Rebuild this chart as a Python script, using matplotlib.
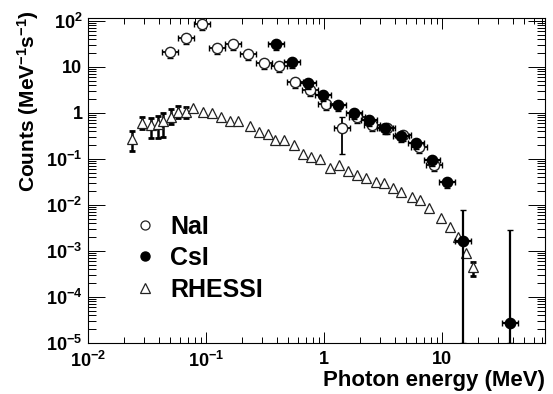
import numpy as np
import matplotlib
matplotlib.use("Agg")
import matplotlib.pyplot as plt
from matplotlib.lines import Line2D
from matplotlib.ticker import FixedLocator, FixedFormatter, LogLocator, NullFormatter

plt.rcParams['font.family'] = ['Liberation Sans', 'DejaVu Sans']
plt.rcParams['font.weight'] = 'bold'
plt.rcParams['mathtext.fontset'] = 'custom'
plt.rcParams['mathtext.rm'] = 'Liberation Sans:bold'
plt.rcParams['mathtext.bf'] = 'Liberation Sans:bold'
plt.rcParams['mathtext.it'] = 'Liberation Sans:bold'
plt.rcParams['mathtext.sf'] = 'Liberation Sans:bold'

# NaI (open circles)
nai_e = [0.0496, 0.0678, 0.0925, 0.124, 0.169, 0.227, 0.31, 0.416, 0.567,
         0.76, 1.04, 1.42, 1.91, 2.55, 3.42, 4.67, 6.38, 8.55]
nai_c = [21.2, 42.8, 86.0, 25.9, 31.7, 19.2, 12.3, 10.6, 4.75,
         3.18, 1.58, 0.477, 0.83, 0.555, 0.48, 0.336, 0.185, 0.075]
nai_big_err = {11: (0.13, 0.83)}

# CsI (filled circles)
csi_e = [0.392, 0.536, 0.731, 0.98, 1.32, 1.8, 2.4, 3.29, 4.5, 6.0,
         8.2, 11.0, 15.1, 37.7]
csi_c = [31.7, 12.9, 4.52, 2.48, 1.51, 1.01, 0.71, 0.48, 0.32, 0.225,
         0.097, 0.031, 1.69e-3, 2.67e-5]
csi_big_err = {12: (1e-5, 7.6e-3), 13: (1e-5, 2.9e-3)}

# RHESSI (open triangles)
rhessi_e = [0.0236, 0.0287, 0.0342, 0.0392, 0.0432, 0.0505, 0.0579, 0.0677,
            0.0776, 0.0944, 0.1125, 0.134, 0.160, 0.187, 0.236, 0.281,
            0.335, 0.384, 0.458, 0.557, 0.664, 0.776, 0.925, 1.12, 1.34,
            1.60, 1.90, 2.27, 2.76, 3.22, 3.85, 4.49, 5.57, 6.51, 7.77,
            9.82, 11.7, 13.7, 16.0, 18.3]
rhessi_c = [0.275, 0.612, 0.554, 0.583, 0.678, 0.828, 1.06, 1.06,
            1.30, 1.06, 1.01, 0.828, 0.678, 0.678, 0.527, 0.391,
            0.354, 0.262, 0.262, 0.204, 0.130, 0.112, 0.101, 0.0647, 0.0752,
            0.0557, 0.0456, 0.0393, 0.0322, 0.0306, 0.0238, 0.0195, 0.0152,
            0.0131, 0.00879, 0.00533, 0.0034, 0.00206, 0.000884, 0.000439]
rhessi_err = {0: (0.151, 0.411), 1: (0.454, 0.83), 2: (0.29, 0.787),
              3: (0.29, 0.869), 4: (0.305, 1.01), 5: (0.583, 1.23),
              6: (0.787, 1.43), 7: (0.787, 1.36), 39: (0.00028, 0.000564)}

x_ticks = [0.01, 0.1, 1, 10]
x_ticklabels = [r'$\mathdefault{10^{-2}}$', r'$\mathdefault{10^{-1}}$', '1', '10']
y_ticks = [1e-5, 1e-4, 1e-3, 1e-2, 1e-1, 1, 10, 100]
y_ticklabels = [r'$\mathdefault{10^{-5}}$', r'$\mathdefault{10^{-4}}$',
                r'$\mathdefault{10^{-3}}$', r'$\mathdefault{10^{-2}}$',
                r'$\mathdefault{10^{-1}}$', '1', '10', r'$\mathdefault{10^{2}}$']

# bin half width / small stat error (as factors)
XBIN = 1.17
YDN = 1.35
YUP = 1.15


def det_errors(e, c, big):
    e = np.asarray(e)
    c = np.asarray(c)
    xerr = np.vstack([e - e / XBIN, e * XBIN - e])
    lo = c - c / YDN
    hi = c * YUP - c
    for i, (a, b) in big.items():
        lo[i] = c[i] - a
        hi[i] = b - c[i]
    return xerr, np.vstack([lo, hi])


fig = plt.figure(figsize=(5.53, 3.94), dpi=100)
ax = fig.add_axes([88 / 553, 1 - 343 / 394, 457 / 553, 325 / 394])
ax.set_xscale('log')
ax.set_yscale('log')

# RHESSI
re = np.asarray(rhessi_e)
rc = np.asarray(rhessi_c)
idx = sorted(rhessi_err)
ylo = [rc[i] - rhessi_err[i][0] for i in idx]
yhi = [rhessi_err[i][1] - rc[i] for i in idx]
ax.errorbar(re[idx], rc[idx], yerr=[ylo, yhi], fmt='none', ecolor='black',
            elinewidth=1.8, capsize=2.5, capthick=2, zorder=2)
ax.plot(re, rc, linestyle='none', marker='^', markersize=6.8,
        markerfacecolor='white', markeredgecolor='#222222',
        markeredgewidth=0.9, zorder=3)

# NaI
xe, ye = det_errors(nai_e, nai_c, nai_big_err)
ax.errorbar(nai_e, nai_c, xerr=xe, yerr=ye, fmt='o', markersize=7.4,
            markerfacecolor='white', markeredgecolor='#222222',
            markeredgewidth=1.0, ecolor='black', elinewidth=1.3,
            capsize=2, capthick=2.2, zorder=4)

# CsI
xe, ye = det_errors(csi_e, csi_c, csi_big_err)
ax.errorbar(csi_e, csi_c, xerr=xe, yerr=ye, fmt='o', markersize=7.4,
            markerfacecolor='black', markeredgecolor='black',
            markeredgewidth=1.0, ecolor='black', elinewidth=1.6,
            capsize=2, capthick=2.2, zorder=5)

ax.set_xlim(0.01, 74.6)
ax.set_ylim(1e-5, 116)

ax.xaxis.set_major_locator(FixedLocator(x_ticks))
ax.xaxis.set_major_formatter(FixedFormatter(x_ticklabels))
ax.xaxis.set_minor_locator(LogLocator(base=10, subs=np.arange(2, 10), numticks=20))
ax.xaxis.set_minor_formatter(NullFormatter())
ax.yaxis.set_major_locator(FixedLocator(y_ticks))
ax.yaxis.set_major_formatter(FixedFormatter(y_ticklabels))
ax.yaxis.set_minor_locator(LogLocator(base=10, subs=np.arange(2, 10), numticks=20))
ax.yaxis.set_minor_formatter(NullFormatter())

ax.tick_params(which='both', direction='in', top=True, right=True,
               width=0.7, labelsize=13)
ax.tick_params(axis='x', which='major', length=8, pad=6)
ax.tick_params(axis='x', which='minor', length=4)
ax.tick_params(axis='y', which='major', length=12, pad=4)
ax.tick_params(axis='y', which='minor', length=6)
for s in ax.spines.values():
    s.set_linewidth(0.8)

ax.set_xlabel('Photon energy (MeV)', fontsize=16, fontweight='bold', loc='right')
ax.xaxis.set_label_coords(1.0, -0.082)
ax.set_ylabel(r'Counts (MeV$^{\mathbf{-1}}$s$^{\mathbf{-1}}$)', fontsize=15,
              fontweight='bold', loc='top')
ax.yaxis.label.set_horizontalalignment('right')
ax.yaxis.label.set_verticalalignment('center')
ax.yaxis.set_label_coords(-0.131, 1.025)

handles = [
    Line2D([], [], linestyle='none', marker='o', markersize=6.5,
           markerfacecolor='white', markeredgecolor='#222222', markeredgewidth=0.9),
    Line2D([], [], linestyle='none', marker='o', markersize=6.5,
           markerfacecolor='black', markeredgecolor='black'),
    Line2D([], [], linestyle='none', marker='^', markersize=7,
           markerfacecolor='white', markeredgecolor='#222222', markeredgewidth=0.9),
]
ax.legend(handles, ['NaI', 'CsI', 'RHESSI'], loc='upper left',
          bbox_to_anchor=(0.098, 0.395), frameon=False,
          prop={'size': 18, 'weight': 'bold'}, handlelength=1.0,
          handletextpad=0.5, labelspacing=0.3, borderaxespad=0, borderpad=0)

fig.savefig('out.png', dpi=100)
